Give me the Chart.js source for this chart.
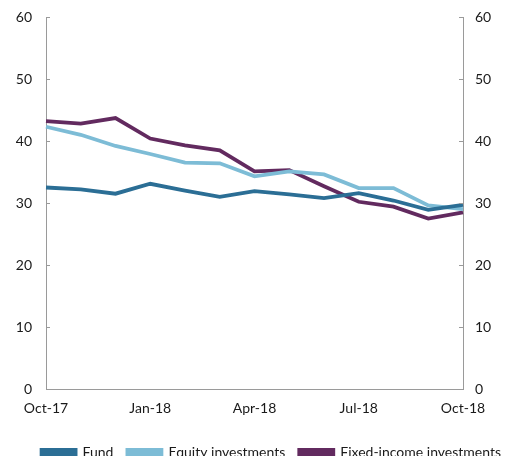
<!DOCTYPE html>
<html>
<head>
<meta charset="utf-8">
<script src="https://cdn.jsdelivr.net/npm/chart.js@4/dist/chart.umd.min.js"></script>
<style>
  html, body { margin: 0; padding: 0; background: #fff; overflow: hidden; }
  #wrap { position: relative; width: 505px; height: 469px; }
</style>
</head>
<body>
<div id="wrap"><canvas id="chart"></canvas></div>
<script>
const months = ['Oct-17', 'Nov-17', 'Dec-17', 'Jan-18', 'Feb-18', 'Mar-18', 'Apr-18',
  'May-18', 'Jun-18', 'Jul-18', 'Aug-18', 'Sep-18', 'Oct-18'];
const shownMonths = ['Oct-17', 'Jan-18', 'Apr-18', 'Jul-18', 'Oct-18'];

const fund = [32.5, 32.2, 31.5, 33.1, 32.0, 31.0, 31.9, 31.4, 30.8, 31.6, 30.4, 28.9, 29.7];
const equity = [42.3, 41.0, 39.2, 37.9, 36.5, 36.4, 34.3, 35.1, 34.6, 32.4, 32.4, 29.6, 29.0];
const fixedIncome = [43.2, 42.8, 43.7, 40.4, 39.3, 38.5, 35.1, 35.3, 32.7, 30.2, 29.4, 27.5, 28.5];

const yTicks = [0, 10, 20, 30, 40, 50, 60];

const FONT = { family: 'Lato', size: 14 };
const AXIS = '#9a9a9a';

// short tick marks pointing into the plot on both value axes
const innerTicks = {
  id: 'innerTicks',
  afterDraw(chart) {
    const ctx = chart.ctx;
    ctx.save();
    ctx.strokeStyle = AXIS;
    ctx.lineWidth = 1;
    ['y', 'y2'].forEach(id => {
      const s = chart.scales[id];
      const x0 = id === 'y' ? s.right : s.left;
      const dir = id === 'y' ? 1 : -1;
      yTicks.forEach(v => {
        const py = Math.round(s.getPixelForValue(v)) + 0.5;
        ctx.beginPath();
        ctx.moveTo(x0, py);
        ctx.lineTo(x0 + dir * 4, py);
        ctx.stroke();
      });
    });
    ctx.restore();
  }
};

const valueAxis = (position, width, pad) => ({
  position: position,
  min: 0,
  max: 60,
  afterBuildTicks(scale) { scale.ticks = yTicks.map(v => ({ value: v })); },
  afterFit(scale) {
    scale.width = width;
    scale.paddingTop = 0;
    scale.paddingBottom = 0;
  },
  ticks: { color: '#1a1a1a', font: FONT, padding: pad },
  grid: { display: false, drawTicks: false },
  border: { display: true, color: AXIS, width: 1 }
});

new Chart(document.getElementById('chart'), {
  type: 'line',
  data: {
    labels: months,
    datasets: [
      { label: 'Fund', data: fund, borderColor: '#2b6e95', backgroundColor: '#2b6e95', yAxisID: 'y' },
      { label: 'Equity investments', data: equity, borderColor: '#7dbcd6', backgroundColor: '#7dbcd6', yAxisID: 'y' },
      { label: 'Fixed-income investments', data: fixedIncome, borderColor: '#622a5f', backgroundColor: '#622a5f', yAxisID: 'y' }
    ]
  },
  options: {
    responsive: true,
    maintainAspectRatio: false,
    animation: false,
    elements: {
      line: { borderWidth: 3.8, tension: 0, borderCapStyle: 'butt', borderJoinStyle: 'miter' },
      point: { radius: 0, hoverRadius: 0 }
    },
    layout: { padding: { top: 17, left: 0, right: -10, bottom: 0 } },
    scales: {
      x: {
        offset: false,
        afterFit(scale) { scale.height = 42; },
        ticks: {
          color: '#1a1a1a',
          font: FONT,
          padding: 11,
          autoSkip: false,
          maxRotation: 0,
          callback(v) {
            const l = months[v];
            return shownMonths.includes(l) ? l : '';
          }
        },
        grid: { display: false, drawTicks: false },
        border: { display: true, color: AXIS, width: 1 }
      },
      y: valueAxis('left', 46, 14),
      y2: valueAxis('right', 52, 12)
    },
    plugins: {
      tooltip: { enabled: false },
      legend: {
        position: 'bottom',
        align: 'end',
        labels: {
          color: '#1a1a1a',
          font: FONT,
          boxWidth: 34,
          boxHeight: 4,
          padding: 14
        }
      }
    }
  },
  plugins: [innerTicks]
});
</script>
</body>
</html>
